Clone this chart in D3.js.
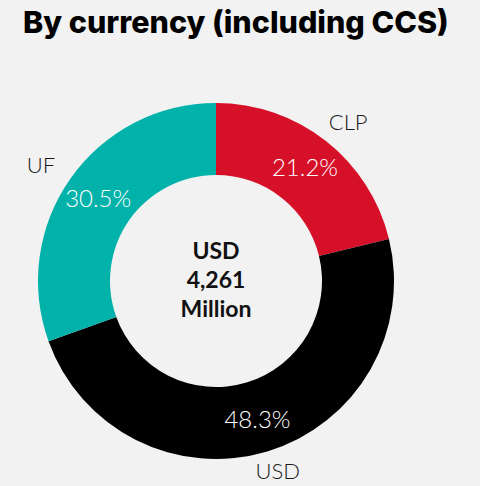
<!DOCTYPE html>
<html>
<head>
<meta charset="utf-8">
<script src="https://cdn.jsdelivr.net/npm/d3@7"></script>
<style>
  html, body { margin: 0; padding: 0; background: #f2f2f2; }
</style>
</head>
<body>
<div id="chart"></div>
<script>
const categories = ["CLP", "USD", "UF"];
const shares = [21.2, 48.3, 30.5];
const colors = ["#d7102a", "#000000", "#00b2a9"];
const totalLines = ["USD", "4,261", "Million"];

var width = 480;
var height = 486;
var cx = 216;
var cy = 281;
var outerR = 178;
var innerR = 106;

var svg = d3
  .select("#chart")
  .append("svg")
  .attr("width", width)
  .attr("height", height)
  .style("background", "#f2f2f2");

/* Title */
svg
  .append("text")
  .attr("x", 23)
  .attr("y", 33)
  .attr("font-family", "Inter")
  .attr("font-weight", 800)
  .attr("font-size", "30.5px")
  .attr("fill", "#000")
  .text("By currency (including CCS)");

var data = categories.map((c, i) => ({ name: c, value: shares[i], color: colors[i] }));

var pie = d3.pie().sort(null).value((d) => d.value);
var arcs = pie(data);

var arc = d3.arc().innerRadius(innerR).outerRadius(outerR);
var valueArc = d3.arc().innerRadius(144).outerRadius(144);
var nameArc = d3.arc().innerRadius(200).outerRadius(200);

var g = svg.append("g").attr("transform", `translate(${cx}, ${cy})`);

g.selectAll(".slice")
  .data(arcs)
  .enter()
  .append("path")
  .attr("class", "slice")
  .attr("d", arc)
  .attr("fill", (d) => d.data.color);

/* percentage labels */
g.selectAll(".pct")
  .data(arcs)
  .enter()
  .append("text")
  .attr("class", "pct")
  .attr("transform", (d) => `translate(${valueArc.centroid(d)})`)
  .attr("text-anchor", "middle")
  .attr("dy", "0.36em")
  .attr("font-family", "Lato")
  .attr("font-weight", 300)
  .attr("font-size", "24px")
  .attr("fill", "#fff")
  .text((d) => d.data.value.toFixed(1) + "%");

/* category labels, pushed a little outward horizontally like the original */
g.selectAll(".name")
  .data(arcs)
  .enter()
  .append("text")
  .attr("class", "name")
  .attr("transform", (d) => {
    var c = nameArc.centroid(d);
    return `translate(${c[0] * 1.07}, ${c[1]})`;
  })
  .attr("text-anchor", "middle")
  .attr("dy", "0.3em")
  .attr("font-family", "Lato")
  .attr("font-weight", 300)
  .attr("font-size", "22px")
  .attr("fill", "#1a1a1a")
  .text((d) => d.data.name);

/* centre total */
g.selectAll(".total")
  .data(totalLines)
  .enter()
  .append("text")
  .attr("class", "total")
  .attr("x", 0)
  .attr("y", (d, i) => -22 + i * 29)
  .attr("text-anchor", "middle")
  .attr("font-family", "Lato")
  .attr("font-weight", 700)
  .attr("font-size", "23px")
  .attr("fill", "#111")
  .text((d) => d);
</script>
</body>
</html>
